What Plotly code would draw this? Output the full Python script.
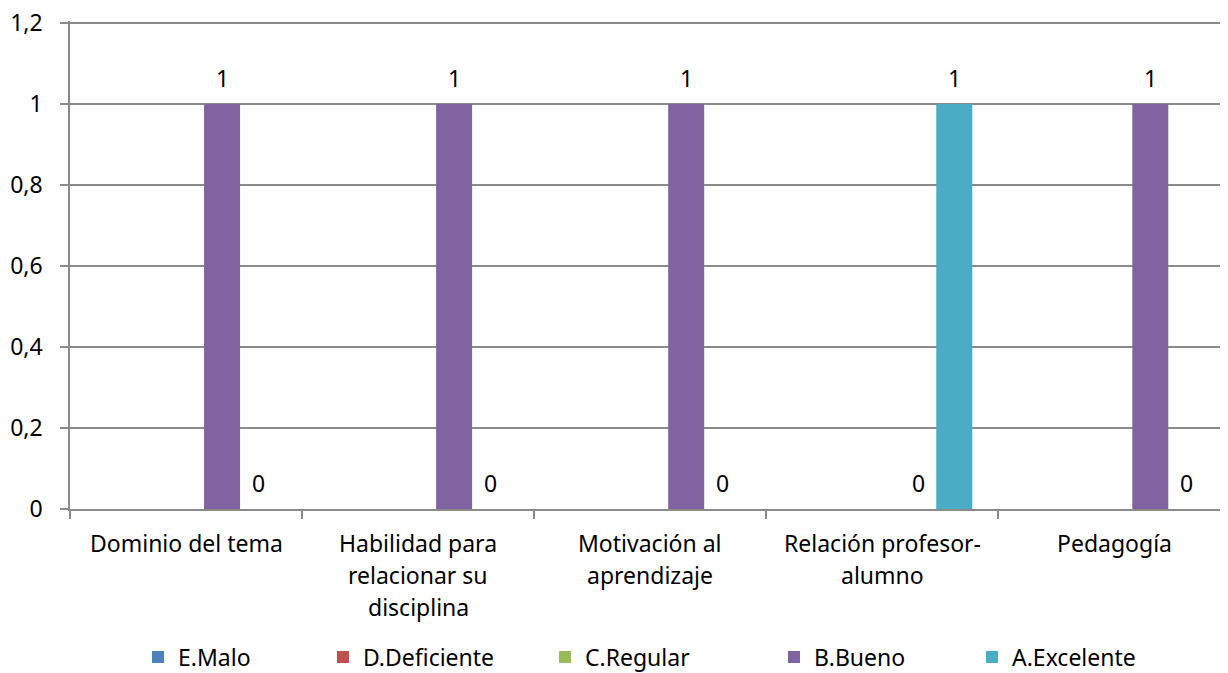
import plotly.graph_objects as go

categories = ["Dominio del tema", "Habilidad para relacionar su disciplina",
              "Motivación al aprendizaje", "Relación profesor-alumno", "Pedagogía"]
category_lines = [["Dominio del tema"], ["Habilidad para", "relacionar su", "disciplina"],
                  ["Motivación al", "aprendizaje"], ["Relación profesor-", "alumno"], ["Pedagogía"]]
series_names = ["E.Malo", "D.Deficiente", "C.Regular", "B.Bueno", "A.Excelente"]
e_malo = [None, None, None, None, None]
d_deficiente = [None, None, None, None, None]
c_regular = [None, None, None, None, None]
b_bueno = [1, 1, 1, 0, 1]
a_excelente = [0, 0, 0, 1, 0]
colors = ["#4F81BD", "#C0504D", "#9BBB59", "#8064A2", "#4BACC6"]
y_ticks = [0, 0.2, 0.4, 0.6, 0.8, 1.0, 1.2]

all_series = [e_malo, d_deficiente, c_regular, b_bueno, a_excelente]

# page has an 8px body margin; figure sized so its plot fills the visible window
W, H = 1220, 665
ML, MR, MT, MB = 62, 0, 13, 164
BARGAP = 0.224
XMAX = 4.49
FONT = "Noto Sans"
FS = 23
GRID = "#8A8A8A"
LEGEND_X = [130, 315, 537, 766, 964]  # legend entry left edges (px, figure coords)

plot_w = W - ML - MR
plot_h = H - MT - MB
y_top = y_ticks[-1] * plot_h / (plot_h - 2)  # 2px headroom so the top gridline is drawn

fig = go.Figure()
for k, (name, vals, col) in enumerate(zip(series_names, all_series, colors)):
    fig.add_trace(go.Bar(name=name, x=categories, y=vals, marker_color=col,
                         marker_line_width=0,
                         legend="legend" if k == 0 else f"legend{k + 1}"))

px_per_cat = plot_w / (XMAX + 0.5)
bar_px = px_per_cat * (1 - BARGAP) / len(series_names)

annotations = []
for i, vals in enumerate(all_series):
    for cat, v in zip(categories, vals):
        if v is None:
            continue
        annotations.append(dict(x=cat, y=v, xref="x", yref="y", text=str(v),
                                showarrow=False, yanchor="middle", yshift=26,
                                xshift=(i - (len(series_names) - 1) / 2) * bar_px,
                                font=dict(family=FONT, size=FS, color="#000000")))
for cat, lines in zip(categories, category_lines):
    for j, line in enumerate(lines):
        annotations.append(dict(x=cat, y=0, xref="x", yref="paper", text=line,
                                showarrow=False, yanchor="middle", yshift=-(34 + 32 * j),
                                font=dict(family=FONT, size=FS, color="#000000")))

legends = {}
for k, lx in enumerate(LEGEND_X):
    key = "legend" if k == 0 else f"legend{k + 1}"
    legends[key] = dict(orientation="h", xref="container", yref="paper",
                        x=lx / W, xanchor="left", y=-148 / plot_h, yanchor="middle",
                        bgcolor="rgba(0,0,0,0)",
                        font=dict(family=FONT, size=FS, color="#000000"))

fig.update_layout(
    width=W, height=H,
    margin=dict(l=ML, r=MR, t=MT, b=MB, autoexpand=False),
    paper_bgcolor="white", plot_bgcolor="white",
    barmode="group", bargap=BARGAP, bargroupgap=0,
    separators=",.",
    font=dict(family=FONT, size=FS, color="#000000"),
    showlegend=True,
    annotations=annotations,
    **legends,
)
fig.update_xaxes(range=[-0.5, XMAX], showticklabels=False, ticks="outside",
                 tickson="boundaries", ticklen=8, tickcolor=GRID, tickwidth=1.5,
                 showline=True, linecolor=GRID, linewidth=1.5, showgrid=False,
                 zeroline=False, automargin=False)
fig.update_yaxes(range=[0, y_top], tickvals=y_ticks, ticks="outside", ticklen=8,
                 tickcolor=GRID, tickwidth=1.5, showline=True, linecolor=GRID, linewidth=1.5,
                 showgrid=True, gridcolor=GRID, gridwidth=1.5, zeroline=False,
                 ticklabelstandoff=13, automargin=False, ticklabeloverflow="allow",
                 tickfont=dict(family=FONT, size=FS, color="#000000"))

fig.write_html("out.html")
